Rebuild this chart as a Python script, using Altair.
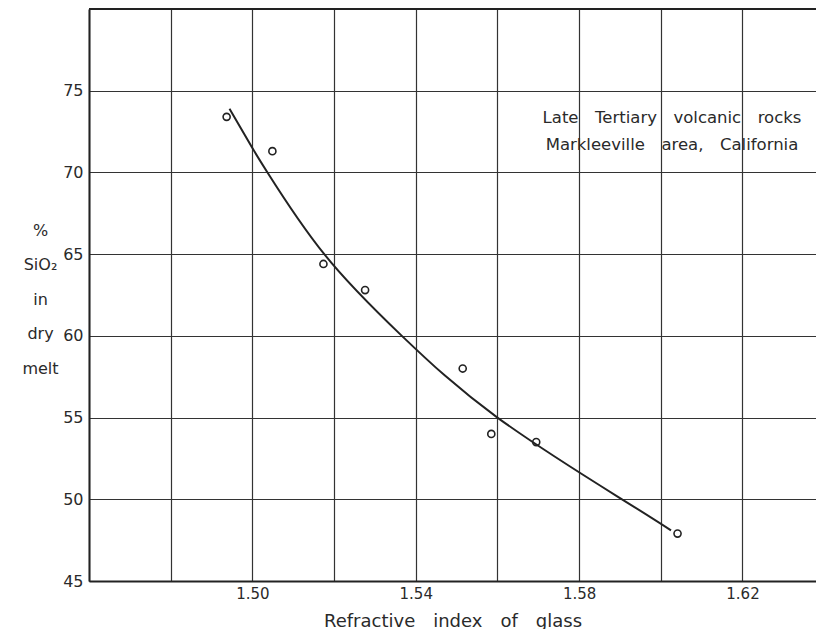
import altair as alt
import pandas as pd

# Observed samples (refractive index of glass, % SiO2 in dry melt)
glass_index = [1.4937, 1.5049, 1.5174, 1.5276, 1.5515, 1.5585, 1.5695, 1.6041]
sio2 = [73.4, 71.3, 64.4, 62.8, 58.0, 54.0, 53.5, 47.9]

# Hand-drawn fitted curve
curve_index = [1.4944, 1.5000, 1.5037, 1.5176, 1.5366, 1.5600, 1.5905, 1.6025]
curve_sio2 = [73.9, 71.5, 70.0, 65.0, 60.0, 55.0, 50.0, 48.1]

x_grid = [1.46, 1.48, 1.50, 1.52, 1.54, 1.56, 1.58, 1.60, 1.62]
y_grid = [45, 50, 55, 60, 65, 70, 75, 80]
annotation = ["Late\u2003Tertiary\u2003volcanic\u2003rocks",
              "Markleeville\u2003area,\u2003California"]
x_title = "Refractive\u2003index\u2003of\u2003glass"
y_title = ["%", "SiO\u2082", "in", "dry", "melt"]

FONT = "DejaVu Sans"
INK = "#222222"
TXT = "#2a2a2a"

pts = pd.DataFrame({"n": glass_index, "s": sio2})
crv = pd.DataFrame({"n": curve_index, "s": curve_sio2})
top = pd.DataFrame({"s": [80]})

x_scale = alt.Scale(domain=[1.46, 1.638], nice=False, zero=False)
y_scale = alt.Scale(domain=[45, 80], nice=False, zero=False)

x_axis = alt.Axis(
    values=x_grid,
    labelExpr=("(datum.value > 1.47 && round(datum.value*100) % 4 == 2) ? "
               "format(datum.value, '.2f') : ''"),
    grid=True, gridColor="#333333", gridWidth=1.2, domainColor=INK, domainWidth=2,
    ticks=False, labelFont=FONT, labelFontSize=15, labelColor=TXT, labelPadding=5,
    title=x_title, titleFont=FONT, titleFontSize=18, titleFontWeight="normal",
    titleColor=TXT, titlePadding=11,
)
y_axis = alt.Axis(
    values=y_grid, labelExpr="datum.value < 80 ? datum.label : ''", grid=True,
    gridColor="#333333", gridWidth=1.2, domainColor=INK, domainWidth=2,
    ticks=False, labelFont=FONT, labelFontSize=16, labelColor=TXT,
    labelPadding=6, title=y_title, titleFont=FONT, titleFontSize=16,
    titleFontWeight="normal", titleColor=TXT, titleAngle=0,
    titleAlign="center", titleBaseline="middle", titleX=-49, titleY=221,
    titleLineHeight=34.5,
)

X = alt.X("n:Q", scale=x_scale, axis=x_axis)
Y = alt.Y("s:Q", scale=y_scale, axis=y_axis)

line = alt.Chart(crv).mark_line(color=INK, strokeWidth=2, interpolate="natural").encode(
    x=X, y=Y, order="n:Q",
)

points = alt.Chart(pts).mark_point(shape="circle", filled=False, color=INK,
                                   size=50, strokeWidth=1.6, opacity=1).encode(x=X, y=Y)

top_rule = alt.Chart(top).mark_rule(color=INK, strokeWidth=2).encode(y=Y)

note = alt.Chart(pd.DataFrame({"k": [0]})).mark_text(
    text=annotation, align="center", baseline="alphabetic", font=FONT,
    fontSize=16.5, lineHeight=27, color=TXT,
).encode(x=alt.value(583), y=alt.value(114))

chart = alt.layer(line, points, top_rule, note).properties(
    width=727, height=572,
    autosize=alt.AutoSizeParams(type="none"),
    padding={"left": 81, "top": 1, "right": 0, "bottom": 48},
    background="white",
).configure_view(stroke=None)

chart.save("out.html", embed_options={"renderer": "svg", "actions": False})
